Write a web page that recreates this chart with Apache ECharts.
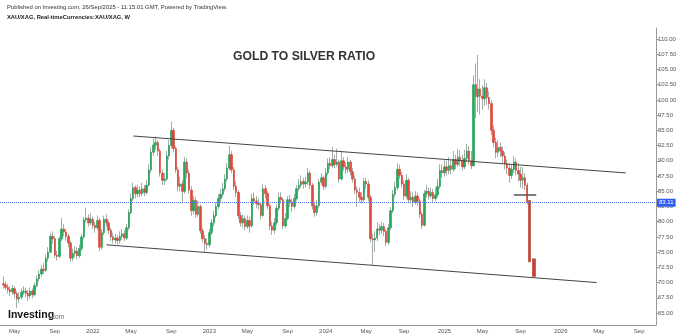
<!DOCTYPE html>
<html>
<head>
<meta charset="utf-8">
<script src="https://cdn.jsdelivr.net/npm/echarts@6/dist/echarts.min.js"></script>
<style>
  html, body { margin: 0; padding: 0; background: #fff; }
  #chart { width: 680px; height: 336px; }
</style>
</head>
<body>
<div id="chart"></div>
<script>
// weekly XAU/XAG closes, highs and lows, first candle = week of 2021-03-29
var firstOpen = 69.8;
var closes = [
  69.6, 69.2, 68.8, 68.5, 69.0, 68.2, 67.3, 67.6, 68.4, 68.6,
  68.2, 67.8, 68.6, 68.0, 69.5, 70.6, 71.4, 72.2, 72.0, 74.0,
  75.0, 77.6, 77.2, 74.5, 74.3, 77.2, 78.8, 78.3, 77.6, 76.5,
  74.0, 74.8, 75.2, 74.4, 75.6, 77.5, 80.3, 80.6, 79.8, 80.4,
  79.4, 79.0, 80.2, 75.8, 78.2, 80.4, 79.8, 78.6, 77.5, 77.0,
  77.3, 76.9, 77.6, 78.0, 77.3, 79.0, 81.5, 83.8, 85.6, 84.6,
  85.2, 84.6, 85.4, 84.8, 86.0, 88.5, 91.4, 92.6, 93.0, 91.6,
  88.0, 86.8, 87.0, 90.8, 92.5, 95.0, 92.0, 88.5, 85.8, 86.2,
  85.0, 89.8, 88.0, 85.2, 81.8, 83.5, 81.2, 82.5, 78.5, 77.2,
  76.4, 76.2, 78.2, 79.8, 81.0, 82.5, 83.8, 84.5, 85.4, 87.0,
  88.8, 91.0, 88.5, 85.8, 84.8, 81.0, 79.8, 80.5, 79.2, 80.2,
  79.3, 83.8, 83.4, 83.0, 82.8, 81.0, 85.4, 84.6, 82.6, 79.3,
  78.6, 79.8, 82.2, 84.0, 83.6, 79.3, 80.5, 83.6, 83.2, 82.5,
  83.8, 85.4, 86.0, 86.6, 86.2, 86.5, 88.0, 86.0, 82.6, 81.5,
  82.6, 86.5, 87.2, 85.8, 88.0, 89.6, 89.2, 90.2, 89.4, 89.8,
  87.0, 90.0, 89.0, 88.6, 89.8, 88.2, 87.0, 85.2, 84.8, 84.0,
  83.6, 86.6, 86.2, 84.0, 77.2, 77.0, 77.3, 78.8, 78.6, 79.2,
  78.4, 76.6, 79.0, 81.8, 84.5, 85.6, 88.6, 87.6, 86.2, 84.2,
  86.8, 83.6, 84.0, 83.2, 84.2, 83.4, 81.2, 79.4, 84.6, 85.0,
  84.2, 84.8, 83.8, 84.4, 85.8, 88.4, 88.0, 89.0, 88.4, 89.2,
  88.6, 90.2, 89.4, 90.6, 90.0, 89.0, 90.4, 91.6, 90.0, 89.2,
  102.5, 100.5, 101.8, 100.6, 100.2, 102.0, 100.4, 99.4, 95.0, 93.0,
  91.4, 92.2, 91.6, 90.8, 89.5, 88.8, 87.6, 88.6, 89.8, 88.4,
  87.8, 86.8, 87.2, 86.0, 83.2
];
var highs = [
  71.0, 70.2, 69.8, 69.4, 69.6, 69.4, 68.6, 68.4, 69.0, 69.4,
  69.2, 68.8, 69.2, 69.0, 70.0, 71.2, 72.0, 72.9, 73.2, 74.6,
  75.8, 78.2, 78.4, 77.6, 75.2, 77.6, 80.6, 79.6, 78.8, 78.0,
  76.8, 75.6, 76.0, 75.8, 76.2, 78.0, 80.8, 82.3, 81.2, 81.4,
  80.8, 80.0, 81.0, 80.6, 78.8, 81.0, 81.2, 80.2, 79.0, 78.2,
  78.0, 77.8, 78.4, 78.8, 78.6, 79.6, 82.0, 84.6, 86.4, 86.0,
  86.0, 85.8, 86.4, 86.0, 86.8, 89.4, 92.2, 93.6, 94.0, 93.4,
  92.0, 88.6, 88.0, 91.6, 93.4, 96.4, 95.4, 92.4, 89.0, 87.4,
  86.8, 90.6, 90.4, 88.6, 85.8, 84.2, 84.0, 83.4, 82.8, 79.0,
  77.8, 77.2, 78.8, 80.4, 81.8, 83.2, 84.6, 85.4, 86.4, 87.8,
  89.6, 92.5, 91.6, 89.0, 86.6, 85.2, 81.6, 81.2, 81.0, 81.0,
  80.8, 84.6, 84.8, 84.2, 83.8, 83.2, 86.2, 86.0, 85.0, 83.0,
  80.0, 80.6, 82.8, 84.8, 84.8, 84.0, 81.4, 84.2, 84.4, 83.8,
  84.6, 86.0, 87.0, 87.6, 87.2, 87.4, 88.8, 88.4, 86.4, 83.2,
  83.6, 87.0, 88.0, 87.6, 88.8, 90.4, 90.6, 92.3, 91.0, 92.0,
  90.2, 91.6, 90.6, 89.8, 90.6, 90.2, 88.8, 87.6, 85.8, 85.6,
  84.8, 87.2, 87.2, 86.8, 84.4, 78.0, 78.4, 79.8, 79.6, 80.0,
  79.8, 78.8, 79.6, 82.4, 85.2, 86.6, 89.6, 89.4, 88.2, 86.8,
  87.8, 87.2, 85.0, 84.8, 85.0, 84.8, 83.8, 81.6, 85.2, 86.0,
  85.6, 85.6, 85.4, 85.6, 87.0, 89.4, 89.4, 90.2, 90.0, 90.6,
  90.2, 91.6, 91.0, 92.0, 91.8, 91.0, 91.8, 92.8, 92.4, 91.6,
  104.0, 106.0, 107.4, 103.4, 102.4, 103.4, 102.8, 101.4, 100.0, 95.8,
  93.8, 93.4, 93.0, 92.4, 91.4, 90.2, 89.6, 89.4, 90.8, 90.4,
  89.6, 89.0, 89.0, 88.0, 86.4
];
var lows = [
  69.0, 68.8, 68.2, 67.8, 68.0, 67.4, 65.8, 66.6, 67.2, 67.9,
  67.6, 67.0, 67.4, 67.4, 67.7, 69.2, 70.2, 71.0, 71.4, 71.8,
  73.4, 74.8, 76.4, 74.0, 73.6, 74.0, 76.8, 77.6, 76.9, 75.8,
  73.4, 73.5, 74.2, 73.8, 74.0, 75.2, 77.2, 79.8, 79.2, 79.4,
  78.8, 78.2, 78.6, 75.2, 75.4, 77.8, 79.2, 78.0, 76.8, 76.4,
  76.4, 76.2, 76.4, 77.0, 76.8, 77.0, 78.6, 81.2, 83.4, 83.8,
  84.0, 84.0, 84.2, 84.2, 84.4, 85.8, 88.0, 90.8, 91.8, 90.8,
  87.4, 86.0, 86.0, 86.6, 90.2, 92.0, 91.4, 88.0, 85.0, 85.0,
  83.0, 84.6, 87.2, 84.6, 81.0, 81.2, 80.6, 80.8, 78.0, 76.6,
  75.0, 75.4, 75.8, 77.8, 79.2, 80.6, 82.0, 83.2, 84.0, 85.0,
  86.6, 88.4, 88.0, 85.2, 84.0, 80.4, 79.2, 79.0, 78.6, 78.8,
  78.2, 79.0, 82.8, 82.2, 82.0, 80.4, 80.8, 83.8, 82.0, 78.6,
  77.8, 78.0, 79.4, 81.8, 83.0, 78.8, 79.0, 80.2, 82.4, 81.6,
  82.0, 83.4, 85.0, 85.6, 85.4, 85.6, 86.0, 85.4, 82.0, 80.8,
  81.0, 82.2, 86.0, 85.2, 85.4, 87.6, 88.6, 88.8, 88.8, 89.0,
  86.4, 86.8, 88.4, 87.8, 88.0, 87.6, 86.4, 84.6, 82.4, 83.2,
  83.0, 83.2, 85.4, 83.4, 76.6, 72.9, 75.0, 76.8, 77.8, 78.0,
  77.6, 76.0, 76.2, 78.6, 81.4, 84.0, 85.2, 87.0, 85.6, 83.6,
  83.8, 83.0, 83.0, 82.4, 82.8, 82.6, 80.6, 78.8, 79.2, 84.0,
  83.6, 83.8, 83.2, 83.4, 84.0, 85.4, 87.2, 87.4, 87.6, 87.8,
  87.8, 88.2, 88.6, 89.0, 89.2, 88.4, 88.6, 89.8, 89.4, 88.6,
  89.0, 97.0, 98.0, 97.6, 98.4, 99.0, 99.2, 98.4, 94.2, 92.2,
  90.4, 90.6, 90.6, 89.6, 88.6, 87.8, 86.4, 87.0, 88.0, 87.6,
  86.6, 85.6, 85.4, 85.2, 82.8
];
// drawn projection bars after the last candle: [open, close]
var projection = [[83.5, 73.4], [73.9, 71.0]];
var projectionAt = [236, 238];

var currentPrice = 83.11;
var yTicks = [65, 67.5, 70, 72.5, 75, 77.5, 80, 82.5, 85, 87.5, 90, 92.5, 95, 97.5, 100, 102.5, 105, 107.5, 110];
var monthLabels = { 0: null, 4: 'May', 8: 'Sep' };

// channel lines and level: [weekIndex, value]
var upperChannel = [[59, 94.07], [279, 88.0]];
var lowerChannel = [[47, 76.2], [266, 70.0]];
var levelLine = [[229, 84.4], [239, 84.4]];

var weekCount = 293;
var startMs = Date.UTC(2021, 2, 22);
var weeks = [];
for (var i = 0; i < weekCount; i++) {
  weeks.push(new Date(startMs + i * 7 * 86400000).toISOString().slice(0, 10));
}
function weekLabel(i) {
  if (i === 0) return '';
  var d = new Date(weeks[i]), p = new Date(weeks[i - 1]);
  var m = d.getUTCMonth();
  if (m === p.getUTCMonth() || !(m in monthLabels)) return '';
  return monthLabels[m] === null ? String(d.getUTCFullYear()) : monthLabels[m];
}

var wicks = [], bodies = [], proj = [];
for (var i = 0; i < weekCount; i++) { wicks.push('-'); bodies.push('-'); proj.push('-'); }
for (var k = 0; k < closes.length; k++) {
  var o = k === 0 ? firstOpen : closes[k - 1];
  var c = closes[k];
  wicks[k + 1] = [o, c, lows[k], highs[k]];
  bodies[k + 1] = [o, c, Math.min(o, c), Math.max(o, c)];
}
projection.forEach(function (b, j) {
  proj[projectionAt[j]] = [b[0], b[1], Math.min(b[0], b[1]), Math.max(b[0], b[1])];
});

var chart = echarts.init(document.getElementById('chart'));
var smallFont = { fontFamily: 'Liberation Sans, Arial, sans-serif', fontSize: 6, color: '#555' };

chart.setOption({
  animation: false,
  backgroundColor: '#fff',
  grid: { left: 0, right: 24, top: 28, bottom: 11 },
  xAxis: {
    type: 'category',
    data: weeks,
    boundaryGap: true,
    axisLine: { lineStyle: { color: '#999' } },
    axisTick: { show: false },
    axisLabel: Object.assign({
      interval: function (i) { return weekLabel(i) !== ''; },
      formatter: function (v, i) { return weekLabel(i); },
      margin: 3
    }, smallFont),
    splitLine: { show: false }
  },
  yAxis: {
    type: 'value',
    position: 'right',
    min: 63.03,
    max: 111.81,
    axisLine: { show: true, lineStyle: { color: '#999' } },
    axisTick: { show: true, length: 3, customValues: yTicks, lineStyle: { color: '#999' } },
    axisLabel: Object.assign({
      customValues: yTicks,
      margin: 2,
      formatter: function (v) { return v.toFixed(2); }
    }, smallFont),
    splitLine: { show: false }
  },
  graphic: [
    { type: 'text', left: 7, top: 4, style: { text: 'Published on Investing.com, 26/Sep/2025 - 11:15:01 GMT, Powered by TradingView.', font: '5.9px Liberation Sans, Arial, sans-serif', fill: '#333' } },
    { type: 'text', left: 7, top: 14, style: { text: 'XAU/XAG, Real-timeCurrencies:XAU/XAG, W', font: 'bold 5.8px Liberation Sans, Arial, sans-serif', fill: '#222' } },
    { type: 'text', left: 233, top: 51, style: { text: 'GOLD TO SILVER RATIO', font: 'bold 12.2px Liberation Sans, Arial, sans-serif', fill: '#333' } },
    { type: 'text', left: 8, top: 310, style: { text: 'Investing', font: 'bold 10.5px Liberation Sans, Arial, sans-serif', fill: '#111' } },
    { type: 'text', left: 50, top: 314, style: { text: '.com', font: '6.5px Liberation Sans, Arial, sans-serif', fill: '#666' } }
  ],
  series: [
    {
      type: 'candlestick',
      data: wicks,
      barWidth: 1,
      silent: true,
      itemStyle: { color: '#a4aea8', color0: '#a4aea8', borderColor: '#a4aea8', borderColor0: '#a4aea8', borderWidth: 1 }
    },
    {
      type: 'candlestick',
      data: bodies,
      barWidth: '88%',
      silent: true,
      itemStyle: { color: '#20a95b', color0: '#e4493b', borderColor: '#1c9a52', borderColor0: '#d63f32', borderWidth: 0.6 },
      markLine: {
        symbol: 'none',
        silent: true,
        data: [{ yAxis: currentPrice }],
        lineStyle: { color: '#5577ee', type: 'dotted', width: 1 },
        label: {
          position: 'end', distance: 1, formatter: currentPrice.toFixed(2),
          backgroundColor: '#2f5cf0', color: '#fff', fontSize: 6, padding: [1, 2],
          fontFamily: 'Liberation Sans, Arial, sans-serif'
        }
      }
    },
    {
      type: 'candlestick',
      data: proj,
      barWidth: '130%',
      silent: true,
      itemStyle: { color: '#c8402e', color0: '#c8402e', borderColor: '#b53a2a', borderColor0: '#b53a2a', borderWidth: 0.6 }
    },
    { type: 'line', data: upperChannel, symbol: 'none', silent: true, lineStyle: { color: '#444', width: 1 } },
    { type: 'line', data: lowerChannel, symbol: 'none', silent: true, lineStyle: { color: '#444', width: 1 } },
    { type: 'line', data: levelLine, symbol: 'none', silent: true, lineStyle: { color: '#555', width: 1.5 } }
  ]
});
</script>
</body>
</html>
